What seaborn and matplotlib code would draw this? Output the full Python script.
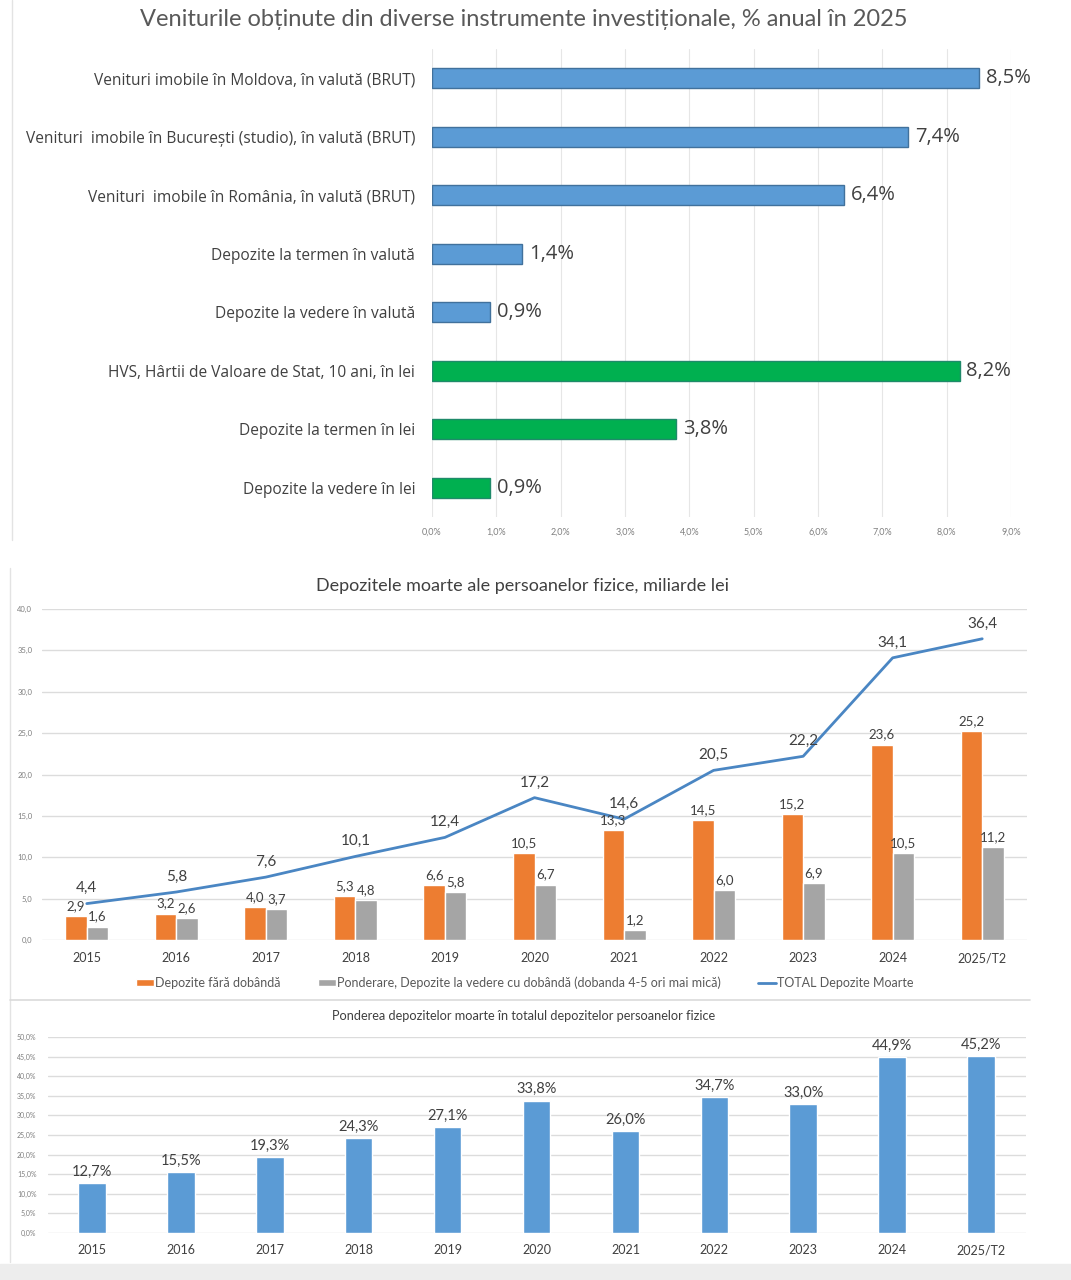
import matplotlib
matplotlib.use("Agg")
import matplotlib.pyplot as plt
import seaborn as sns
import numpy as np
import pandas as pd
from matplotlib.patches import Patch, Rectangle
from matplotlib.lines import Line2D

# --- date ---
instrumente = [
    "Venituri imobile în Moldova, în valută (BRUT)",
    "Venituri  imobile în București (studio), în valută (BRUT)",
    "Venituri  imobile în România, în valută (BRUT)",
    "Depozite la termen în valută",
    "Depozite la vedere în valută",
    "HVS, Hârtii de Valoare de Stat, 10 ani, în lei",
    "Depozite la termen în lei",
    "Depozite la vedere în lei",
]
randamente = [8.5, 7.4, 6.4, 1.4, 0.9, 8.2, 3.8, 0.9]
moneda = ["valuta"] * 5 + ["lei"] * 3

ani = ["2015", "2016", "2017", "2018", "2019", "2020", "2021", "2022", "2023", "2024", "2025/T2"]
fara_dobanda = [2.9, 3.2, 4.0, 5.3, 6.6, 10.5, 13.3, 14.5, 15.2, 23.6, 25.2]
ponderare = [1.6, 2.6, 3.7, 4.8, 5.8, 6.7, 1.2, 6.0, 6.9, 10.5, 11.2]
total_moarte = [4.4, 5.8, 7.6, 10.1, 12.4, 17.2, 14.6, 20.5, 22.2, 34.1, 36.4]
pondere = [12.7, 15.5, 19.3, 24.3, 27.1, 33.8, 26.0, 34.7, 33.0, 44.9, 45.2]

serie_nume = ["Depozite fără dobândă",
              "Ponderare, Depozite la vedere cu dobândă (dobanda 4-5 ori mai mică)",
              "TOTAL Depozite Moarte"]

W, H = 1071, 1280
BLUE, GREEN, ORANGE, GREY = "#5B9BD5", "#00B050", "#ED7D31", "#A5A5A5"
LINE = "#4A86C3"
TXT, TICK, GRID = "#404040", "#7F7F7F", "#DCDCDC"
NARROW = ["Lato", "DejaVu Sans"]
WIDE = ["Open Sans", "DejaVu Sans"]


def box(left, top, right, bottom):
    return [left / W, 1 - bottom / H, (right - left) / W, (bottom - top) / H]


def virgula(v, suffix=""):
    return f"{v:.1f}".replace(".", ",") + suffix


sns.set_theme(style="white")
plt.rcParams["font.family"] = NARROW

fig = plt.figure(figsize=(W / 100, H / 100), dpi=100)

# --- panou 1: randamente ---
ax1 = fig.add_axes(box(432, 49, 1011, 517))
culori = [BLUE if m == "valuta" else GREEN for m in moneda]
sns.barplot(x=randamente, y=instrumente, hue=instrumente, palette=culori, legend=False,
            orient="h", width=0.35, saturation=1, ax=ax1)
for cont, v, m in zip(ax1.containers, randamente, moneda):
    for p in cont:
        p.set_edgecolor("#41719C" if m == "valuta" else "#1F8A6A")
        p.set_linewidth(1)
    ax1.bar_label(cont, labels=[virgula(v, "%")], padding=5, fontsize=14.5,
                  color=TXT, family=WIDE)
ax1.set_xlim(0, 9)
ax1.set_xticks(np.arange(0, 9.1, 1))
ax1.set_xticklabels([virgula(t, "%") for t in np.arange(0, 9.1, 1)], fontsize=6.5, color=TICK)
ax1.set_yticklabels(instrumente, fontsize=11.2, color=TXT, family=WIDE)
ax1.grid(axis="x", color="#E6E6E6", lw=0.8)
ax1.set_axisbelow(True)
ax1.tick_params(length=0)
ax1.tick_params(axis="y", pad=12)
ax1.tick_params(axis="x", pad=8)
ax1.set_xlabel("")
ax1.set_ylabel("")
sns.despine(ax=ax1, left=True, bottom=True)
fig.text(524 / W, 1 - 19 / H,
         "Veniturile obținute din diverse instrumente investiționale, % anual în 2025",
         ha="center", va="center", fontsize=17, color="#595959")

# --- panou 2: depozite moarte ---
ax2 = fig.add_axes(box(42, 609, 1027, 940))
df = pd.DataFrame({
    "an": ani * 2,
    "valoare": fara_dobanda + ponderare,
    "serie": [serie_nume[0]] * len(ani) + [serie_nume[1]] * len(ani),
})
sns.barplot(data=df, x="an", y="valoare", hue="serie", palette=[ORANGE, GREY],
            width=0.48, saturation=1, legend=False, ax=ax2)
for cont, vals in zip(ax2.containers, [fara_dobanda, ponderare]):
    ax2.bar_label(cont, labels=[virgula(v) for v in vals], padding=3, fontsize=9.5, color=TXT)
x = np.arange(len(ani))
sns.lineplot(x=x, y=total_moarte, color=LINE, lw=2, ax=ax2)
for xi, v in zip(x, total_moarte):
    ax2.annotate(virgula(v), (xi, v), xytext=(0, 11), textcoords="offset points",
                 ha="center", va="center", fontsize=11, color=TXT)
ax2.set_xlim(-0.5, len(ani) - 0.5)
ax2.set_ylim(0, 40)
ax2.set_yticks(np.arange(0, 41, 5))
ax2.set_yticklabels([virgula(t) for t in np.arange(0, 41, 5)], fontsize=5.5, color=TICK)
ax2.set_xticks(x)
ax2.set_xticklabels(ani, fontsize=9, color=TXT)
ax2.grid(axis="y", color=GRID, lw=1)
ax2.set_axisbelow(True)
ax2.tick_params(length=0)
ax2.tick_params(axis="y", pad=7)
ax2.tick_params(axis="x", pad=9)
ax2.set_xlabel("")
ax2.set_ylabel("")
sns.despine(ax=ax2, left=True, bottom=True)
fig.text(523 / W, 1 - 586 / H, "Depozitele moarte ale persoanelor fizice, miliarde lei",
         ha="center", va="center", fontsize=13, color="#404040")

handles = [Patch(facecolor=ORANGE), Patch(facecolor=GREY), Line2D([], [], color=LINE, lw=2)]
fig.legend(handles, serie_nume, loc="center", bbox_to_anchor=(525 / W, 1 - 983 / H), ncol=3,
           frameon=False, fontsize=9, handlelength=1.4, handleheight=0.5,
           handletextpad=0.1, columnspacing=3.0, labelcolor="#595959")

# --- panou 3: pondere ---
ax3 = fig.add_axes(box(47.5, 1037, 1025.5, 1233))
sns.barplot(x=ani, y=pondere, color=BLUE, width=0.31, saturation=1, ax=ax3)
ax3.bar_label(ax3.containers[0], labels=[virgula(v, "%") for v in pondere],
              padding=3, fontsize=10.5, color=TXT)
ax3.set_ylim(0, 50)
ax3.set_yticks(np.arange(0, 51, 5))
ax3.set_yticklabels([virgula(t, "%") for t in np.arange(0, 51, 5)], fontsize=5, color=TICK)
ax3.set_xticks(np.arange(len(ani)))
ax3.set_xticklabels(ani, fontsize=9, color=TXT)
ax3.grid(axis="y", color=GRID, lw=1)
ax3.set_axisbelow(True)
ax3.tick_params(length=0)
ax3.tick_params(axis="y", pad=8)
ax3.tick_params(axis="x", pad=8)
ax3.set_xlabel("")
ax3.set_ylabel("")
sns.despine(ax=ax3, left=True, bottom=True)
fig.text(524 / W, 1 - 1016 / H, "Ponderea depozitelor moarte în totalul depozitelor persoanelor fizice",
         ha="center", va="center", fontsize=9.2, color="#404040")

# chenare si separatoare
fig.add_artist(Line2D([12 / W, 12 / W], [1, 1 - 540 / H], color="#E3E3E3", lw=1))
fig.add_artist(Line2D([10 / W, 10 / W], [1 - 568 / H, 1 - 1262 / H], color="#E3E3E3", lw=1))
fig.add_artist(Line2D([10 / W, 1030 / W], [1 - 1000 / H, 1 - 1000 / H], color="#DADADA", lw=1.2))
fig.add_artist(Rectangle((0, 0), 1, 16 / H, color="#EDEDED", transform=fig.transFigure, zorder=-1))

fig.savefig("out.png", dpi=100)
